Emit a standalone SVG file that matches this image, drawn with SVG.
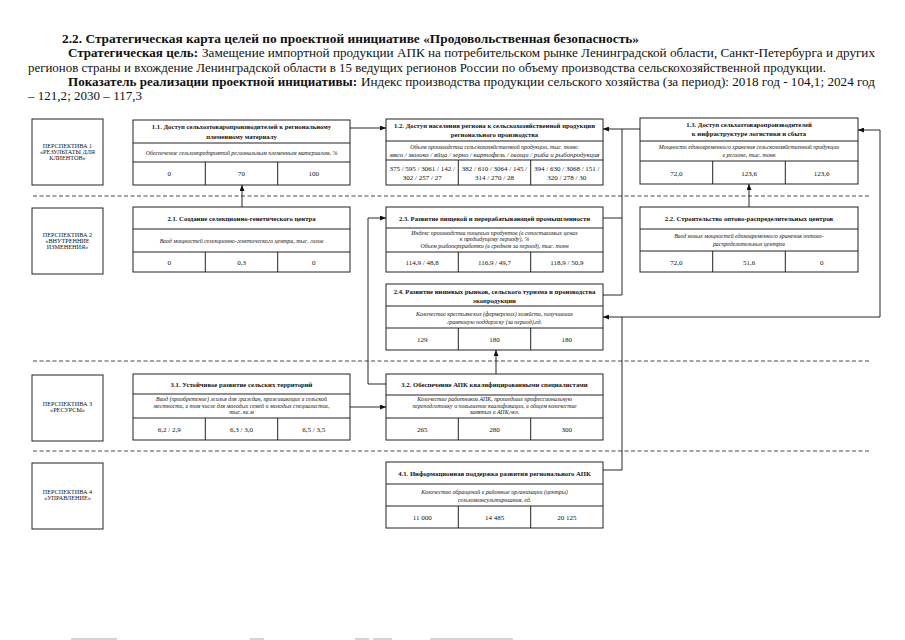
<svg xmlns="http://www.w3.org/2000/svg" width="905" height="640" viewBox="0 0 905 640">
<defs>
<marker id="ah" markerWidth="6" markerHeight="5" refX="6" refY="2.5" orient="auto" markerUnits="userSpaceOnUse">
<path d="M0,0 L6,2.5 L0,5 Z" fill="#111"/>
</marker>
<style>
text{font-family:"Liberation Serif","Times New Roman",serif;fill:#111}
.h{font-size:13.5px}
.hb{font-size:13.5px;font-weight:bold}
.box{fill:#fff;stroke:#222;stroke-width:1}
.ln{stroke:#222;stroke-width:1;fill:none}
.t{font-size:6.7px;font-weight:bold;text-anchor:middle}
.i{font-size:5.9px;font-style:italic;text-anchor:middle}
.v{font-size:7px;text-anchor:middle}
.p{font-size:6.2px;text-anchor:middle}
.con{stroke:#111;stroke-width:0.9;fill:none}
.dash{stroke:#333;stroke-width:0.9;stroke-dasharray:4 2.5;fill:none}
</style>
</defs>
<rect width="905" height="640" fill="#fff"/>

<g id="header">
<text class="hb" x="62" y="43" textLength="577" lengthAdjust="spacingAndGlyphs">2.2. Стратегическая карта целей по проектной инициативе «Продовольственная безопасность»</text>
<text class="hb" x="68" y="57" textLength="130" lengthAdjust="spacingAndGlyphs">Стратегическая цель:</text>
<text class="h" x="202" y="57" textLength="673" lengthAdjust="spacingAndGlyphs">Замещение импортной продукции АПК на потребительском рынке Ленинградской области, Санкт-Петербурга и других</text>
<text class="h" x="28" y="71.5" textLength="798" lengthAdjust="spacingAndGlyphs">регионов страны и вхождение Ленинградской области в 15 ведущих регионов России по объему производства сельскохозяйственной продукции.</text>
<text class="hb" x="68" y="86" textLength="289" lengthAdjust="spacingAndGlyphs">Показатель реализации проектной инициативы:</text>
<text class="h" x="361" y="86" textLength="514" lengthAdjust="spacingAndGlyphs">Индекс производства продукции сельского хозяйства (за период): 2018 год - 104,1; 2024 год</text>
<text class="h" x="28" y="100" textLength="114" lengthAdjust="spacingAndGlyphs">– 121,2; 2030 – 117,3</text>
</g>

<g id="separators">
<line class="dash" x1="33" y1="196" x2="870" y2="196"/>
<line class="dash" x1="33" y1="361" x2="870" y2="361"/>
<line class="dash" x1="33" y1="451" x2="870" y2="451"/>
</g>

<g id="persp1">
<rect class="box" x="32" y="119" width="71" height="66"/>
<text class="p" x="67.5" y="148">ПЕРСПЕКТИВА 1</text>
<text class="p" x="67.5" y="153.8">«РЕЗУЛЬТАТЫ ДЛЯ</text>
<text class="p" x="67.5" y="159.6">КЛИЕНТОВ»</text>
</g>
<g id="persp2">
<rect class="box" x="32" y="208" width="71" height="66"/>
<text class="p" x="67.5" y="237">ПЕРСПЕКТИВА 2</text>
<text class="p" x="67.5" y="242.8">«ВНУТРЕННИЕ</text>
<text class="p" x="67.5" y="248.6">ИЗМЕНЕНИЯ»</text>
</g>
<g id="persp3">
<rect class="box" x="32" y="375" width="71" height="66"/>
<text class="p" x="67.5" y="406">ПЕРСПЕКТИВА 3</text>
<text class="p" x="67.5" y="411.8">«РЕСУРСЫ»</text>
</g>
<g id="persp4">
<rect class="box" x="32" y="463" width="71" height="66"/>
<text class="p" x="67.5" y="494">ПЕРСПЕКТИВА 4</text>
<text class="p" x="67.5" y="499.8">«УПРАВЛЕНИЕ»</text>
</g>

<g id="n11">
<rect class="box" x="133" y="120" width="217" height="65"/>
<path class="ln" d="M133,143 H350 M133,162 H350 M205.3,162 V185 M277.7,162 V185"/>
<text class="t" x="241.5" y="129">1.1. Доступ сельхозтоваропроизводителей к региональному</text>
<text class="t" x="241.5" y="138.5">племенному материалу</text>
<text class="i" x="241.5" y="154.5">Обеспечение сельхозпредприятий региональным племенным материалом, %</text>
<text class="v" x="169.2" y="176">0</text>
<text class="v" x="241.5" y="176">70</text>
<text class="v" x="313.8" y="176">100</text>
</g>

<g id="n12">
<rect class="box" x="386" y="119" width="217" height="66"/>
<path class="ln" d="M386,141 H603 M386,160 H603 M458.3,160 V185 M530.7,160 V185"/>
<text class="t" x="494.5" y="128">1.2. Доступ населения региона к сельскохозяйственной продукции</text>
<text class="t" x="494.5" y="137">регионального производства</text>
<text class="i" x="494.5" y="148.5">Объем производства сельскохозяйственной продукции, тыс. тонн:</text>
<text class="i" x="494.5" y="156.5" textLength="210" lengthAdjust="spacingAndGlyphs">мясо / молоко / яйца / зерно / картофель / овощи / рыба и рыбопродукция</text>
<text class="v" x="422.2" y="171">375 / 595 / 3061 / 142 /</text>
<text class="v" x="422.2" y="180">302 / 257 / 27</text>
<text class="v" x="494.5" y="171">382 / 610 / 3064 / 145 /</text>
<text class="v" x="494.5" y="180">314 / 270 / 28</text>
<text class="v" x="566.8" y="171">394 / 630 / 3068 / 151 /</text>
<text class="v" x="566.8" y="180">320 / 278 / 30</text>
</g>

<g id="n13">
<rect class="box" x="640" y="118" width="218" height="66"/>
<path class="ln" d="M640,141 H858 M640,161 H858 M712.7,161 V184 M785.3,161 V184"/>
<text class="t" x="749" y="127">1.3. Доступ сельхозтоваропроизводителей</text>
<text class="t" x="749" y="136">к инфраструктуре логистики и сбыта</text>
<text class="i" x="749" y="148.5">Мощности единовременного хранения сельскохозяйственной продукции</text>
<text class="i" x="749" y="156.5">в регионе, тыс. тонн</text>
<text class="v" x="676.3" y="175.5">72,0</text>
<text class="v" x="749" y="175.5">123,6</text>
<text class="v" x="821.7" y="175.5">123,6</text>
</g>

<g id="n21">
<rect class="box" x="133" y="207" width="217" height="65"/>
<path class="ln" d="M133,229 H350 M133,252 H350 M205.3,252 V272 M277.7,252 V272"/>
<text class="t" x="241.5" y="220.5">2.1. Создание селекционно-генетического центра</text>
<text class="i" x="241.5" y="243">Ввод мощностей селекционно-генетического центра, тыс. голов</text>
<text class="v" x="169.2" y="265">0</text>
<text class="v" x="241.5" y="265">0,3</text>
<text class="v" x="313.8" y="265">0</text>
</g>

<g id="n23">
<rect class="box" x="386" y="207" width="217" height="65"/>
<path class="ln" d="M386,228 H603 M386,252 H603 M458.3,252 V272 M530.7,252 V272"/>
<text class="t" x="494.5" y="220.5">2.3. Развитие пищевой и перерабатывающей промышленности</text>
<text class="i" x="494.5" y="234.5">Индекс производства пищевых продуктов (в сопоставимых ценах</text>
<text class="i" x="494.5" y="241">к предыдущему периоду), %</text>
<text class="i" x="494.5" y="247.5">Объем рыбопереработки (в среднем за период), тыс. тонн</text>
<text class="v" x="422.2" y="265">114,9 / 48,8</text>
<text class="v" x="494.5" y="265">116,9 / 49,7</text>
<text class="v" x="566.8" y="265">118,9 / 50,9</text>
</g>

<g id="n22">
<rect class="box" x="640" y="207" width="218" height="65"/>
<path class="ln" d="M640,229 H858 M640,251 H858 M712.7,251 V272 M785.3,251 V272"/>
<text class="t" x="749" y="220.5">2.2. Строительство оптово-распределительных центров</text>
<text class="i" x="749" y="238">Ввод новых мощностей единовременного хранения оптово-</text>
<text class="i" x="749" y="246">распределительных центров</text>
<text class="v" x="676.3" y="265">72,0</text>
<text class="v" x="749" y="265">51,6</text>
<text class="v" x="821.7" y="265">0</text>
</g>

<g id="n24">
<rect class="box" x="386" y="284" width="217" height="66"/>
<path class="ln" d="M386,306 H603 M386,328 H603 M458.3,328 V350 M530.7,328 V350"/>
<text class="t" x="494.5" y="293.5">2.4. Развитие нишевых рынков, сельского туризма и производства</text>
<text class="t" x="494.5" y="302.5">экопродукции</text>
<text class="i" x="494.5" y="316">Количество крестьянских (фермерских) хозяйств, получивших</text>
<text class="i" x="494.5" y="324">грантовую поддержку (за период),ед.</text>
<text class="v" x="422.2" y="342">129</text>
<text class="v" x="494.5" y="342">180</text>
<text class="v" x="566.8" y="342">180</text>
</g>

<g id="n31">
<rect class="box" x="133" y="374" width="217" height="66"/>
<path class="ln" d="M133,394 H350 M133,418 H350 M205.3,418 V440 M277.7,418 V440"/>
<text class="t" x="241.5" y="387">3.1. Устойчивое развитие сельских территорий</text>
<text class="i" x="241.5" y="401">Ввод (приобретение) жилья для граждан, проживающих в сельской</text>
<text class="i" x="241.5" y="407.5">местности, в том числе для молодых семей и молодых специалистов,</text>
<text class="i" x="241.5" y="414">тыс. кв.м</text>
<text class="v" x="169.2" y="432">6,2 / 2,9</text>
<text class="v" x="241.5" y="432">6,3 / 3,0</text>
<text class="v" x="313.8" y="432">6,5 / 3,5</text>
</g>

<g id="n32">
<rect class="box" x="386" y="374" width="217" height="66"/>
<path class="ln" d="M386,395 H603 M386,418 H603 M458.3,418 V440 M530.7,418 V440"/>
<text class="t" x="494.5" y="387">3.2. Обеспечение АПК квалифицированными специалистами</text>
<text class="i" x="494.5" y="401">Количество работников АПК, прошедших профессиональную</text>
<text class="i" x="494.5" y="407.5">переподготовку и повышение квалификации, в общем количестве</text>
<text class="i" x="494.5" y="414">занятых в АПК,чел.</text>
<text class="v" x="422.2" y="432">265</text>
<text class="v" x="494.5" y="432">280</text>
<text class="v" x="566.8" y="432">300</text>
</g>

<g id="n41">
<rect class="box" x="386" y="462" width="217" height="66"/>
<path class="ln" d="M386,484 H603 M386,506 H603 M458.3,506 V528 M530.7,506 V528"/>
<text class="t" x="494.5" y="476">4.1. Информационная поддержка развития регионального АПК</text>
<text class="i" x="494.5" y="494">Количество обращений в районные организации (центры)</text>
<text class="i" x="494.5" y="502">сельхозконсультирования, ед.</text>
<text class="v" x="422.2" y="520">11 000</text>
<text class="v" x="494.5" y="520">14 485</text>
<text class="v" x="566.8" y="520">20 125</text>
</g>

<g id="connectors">
<path class="con" d="M350,128 H386" marker-end="url(#ah)"/>
<path class="con" d="M640,129 H603" marker-end="url(#ah)"/>
<path class="con" d="M622,129 V295"/>
<path class="con" d="M603,218 H622"/>
<path class="con" d="M603,295 H622"/>
<path class="con" d="M242,207 V185" marker-end="url(#ah)"/>
<path class="con" d="M749,207 V184" marker-end="url(#ah)"/>
<path class="con" d="M386,384 H368 V218 H386" marker-end="url(#ah)"/>
<path class="con" d="M350,407 H386" marker-end="url(#ah)"/>
<path class="con" d="M496,374 V350" marker-end="url(#ah)"/>
<path class="con" d="M603,470 H622 V317"/>
<path class="con" d="M622,317 H603" marker-end="url(#ah)"/>
<path class="con" d="M622,317 H880 V130 H858" marker-end="url(#ah)"/>
</g>

<g id="scan-edge" fill="#aaa">
<rect x="71" y="638.5" width="46" height="1"/>
<rect x="250" y="638.5" width="14" height="1"/>
<rect x="355" y="638.5" width="14" height="1"/>
<rect x="373" y="638.5" width="19" height="1"/>
<rect x="430" y="638.5" width="83" height="1"/>
</g>
</svg>
